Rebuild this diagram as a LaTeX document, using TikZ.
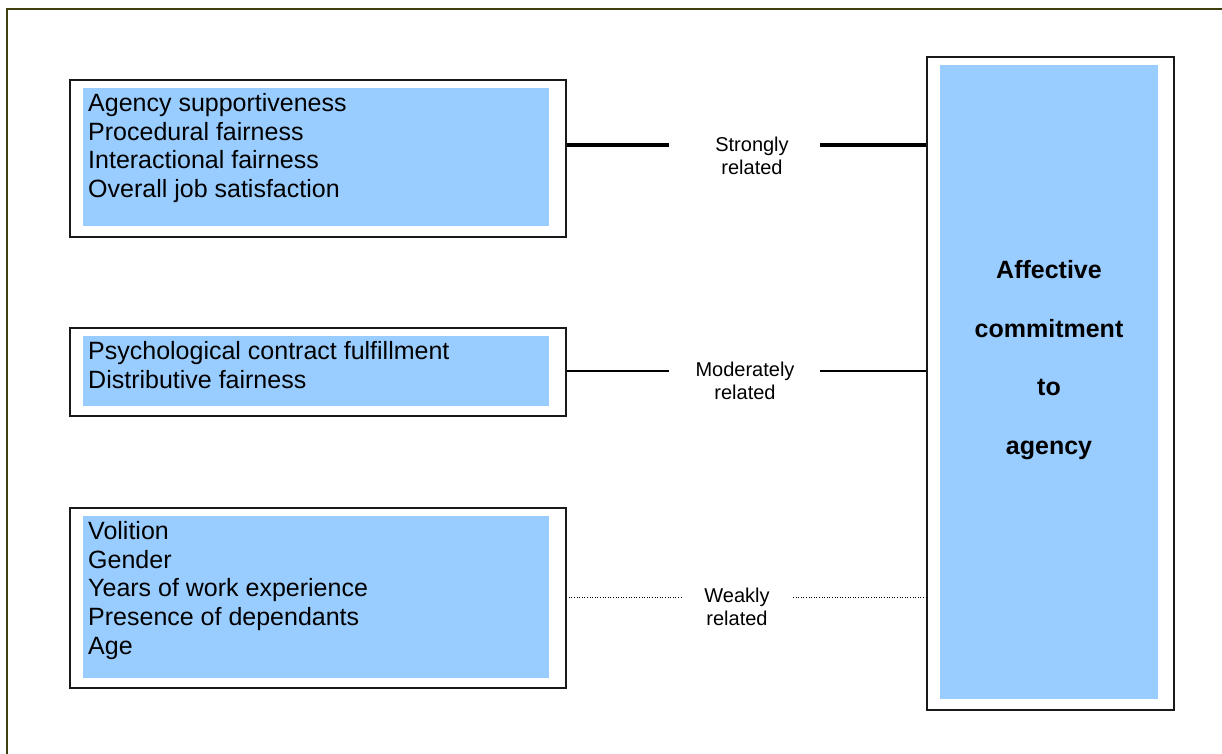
\documentclass[tikz,border=0pt]{standalone}
\usepackage{fontspec}
\setmainfont{Liberation Sans}
\definecolor{fillblue}{HTML}{99CCFF}
\definecolor{framecol}{HTML}{3F3F10}
\begin{document}
\begin{tikzpicture}[x=1pt,y=-1pt,
  outerbox/.style={draw=black!90, line width=1.8pt, fill=white, anchor=north west, inner sep=0pt},
  bluebox/.style={fill=fillblue, draw=none, anchor=north west, inner sep=0pt},
  itemtext/.style={anchor=north west, align=left, inner sep=0pt, font=\fontsize{25}{28.7}\selectfont},
  reltext/.style={align=center, inner sep=0pt, font=\fontsize{20}{23}\selectfont},
  strong/.style={line width=3.2pt},
  moderate/.style={line width=2pt},
  weak/.style={line width=1pt, dash pattern=on 1pt off 1.6pt}
]
\useasboundingbox (0,0) rectangle (1222,753);
\draw[framecol, line width=2pt] (7,760) -- (7,9) -- (1230,9);

% left boxes
\node[outerbox, minimum width=496pt, minimum height=157pt] (b1) at (69,79) {};
\node[bluebox, minimum width=466pt, minimum height=138pt] (b1in) at (83,88) {};
\node[itemtext] (b1t) at (88,93) {Agency supportiveness\\Procedural fairness\\Interactional fairness\\Overall job satisfaction};

\node[outerbox, minimum width=496pt, minimum height=88pt] (b2) at (69,327) {};
\node[bluebox, minimum width=466pt, minimum height=70pt] (b2in) at (83,336) {};
\node[itemtext] (b2t) at (88,341) {Psychological contract fulfillment\\Distributive fairness};

\node[outerbox, minimum width=496pt, minimum height=180pt] (b3) at (69,507) {};
\node[bluebox, minimum width=466pt, minimum height=162pt] (b3in) at (83,516) {};
\node[itemtext] (b3t) at (88,521) {Volition\\Gender\\Years of work experience\\Presence of dependants\\Age};

% right box
\node[outerbox, minimum width=247pt, minimum height=653pt] (big) at (926,56) {};
\node[bluebox, minimum width=218pt, minimum height=634pt] (bigin) at (940,65) {};
\node[align=center, inner sep=0pt, font=\bfseries\fontsize{25}{58.6}\selectfont] (bigt) at (1049,360) {Affective\\commitment\\to\\agency};

% labels
\node[reltext] (s1) at (752,156) {Strongly\\related};
\node[reltext] (s2) at (745,381) {Moderately\\related};
\node[reltext] (s3) at (737,607) {Weakly\\related};

% connector coordinates
\coordinate (l1a) at (669,145);
\coordinate (l1b) at (820,145);
\coordinate (l2a) at (669,371);
\coordinate (l2b) at (820,371);
\coordinate (l3a) at (683,597);
\coordinate (l3b) at (793,597);

\draw[strong] (b1.east |- l1a) -- (l1a);
\draw[strong] (l1b) -- (big.west |- l1b);
\draw[moderate] (b2.east |- l2a) -- (l2a);
\draw[moderate] (l2b) -- (big.west |- l2b);
\draw[weak] ([xshift=2pt]b3.east |- l3a) -- (l3a);
\draw[weak] (l3b) -- (big.west |- l3b);
\end{tikzpicture}
\end{document}
